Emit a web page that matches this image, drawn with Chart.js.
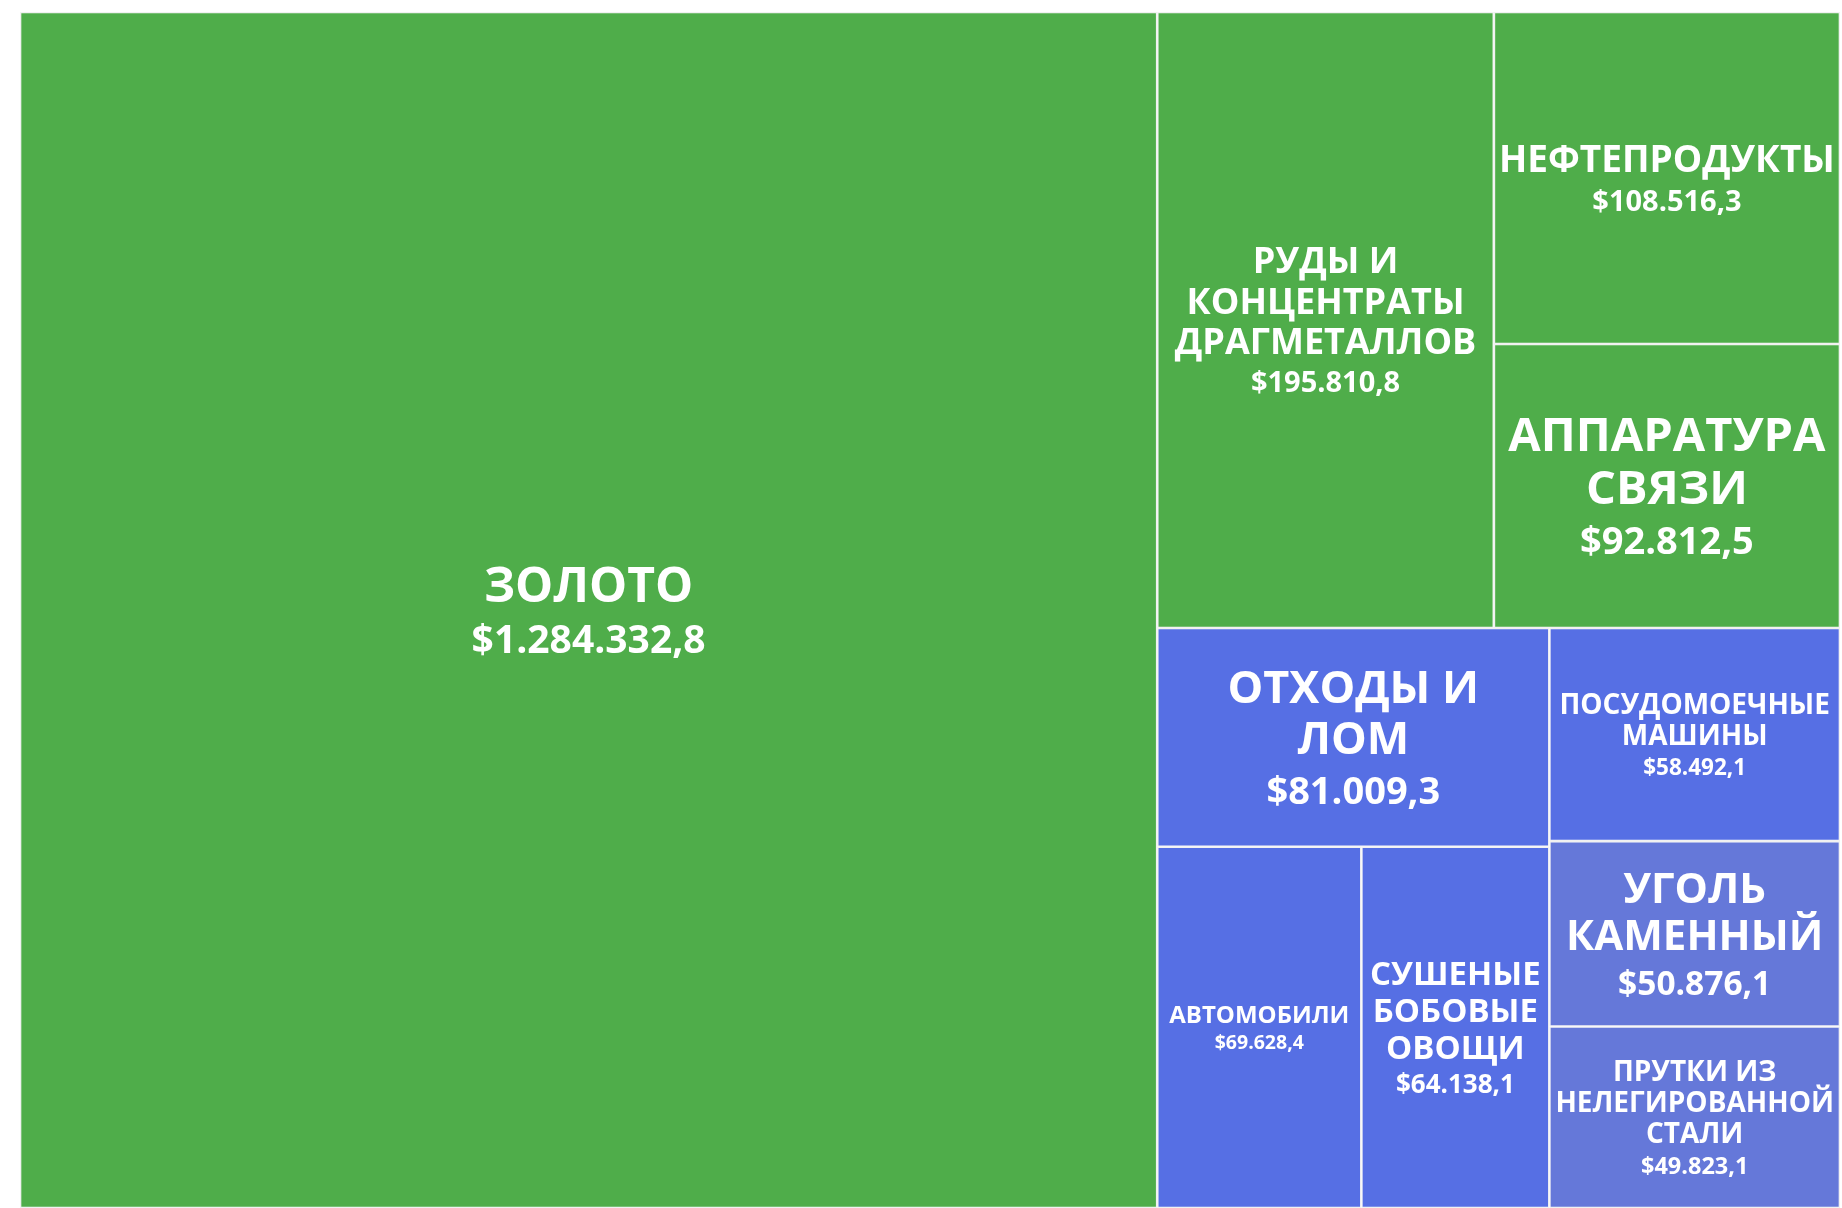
<!DOCTYPE html>
<html lang="ru">
<head>
<meta charset="utf-8">
<title>Экспорт: структура</title>
<script src="https://cdn.jsdelivr.net/npm/chart.js@4.4.1/dist/chart.umd.min.js"></script>
<style>
  html, body { margin: 0; padding: 0; background: #ffffff; }
  #wrap { width: 1842px; height: 1208px; position: relative; }
</style>
</head>
<body>
<div id="wrap"><canvas id="treemap"></canvas></div>
<script>
// Данные: товарные группы и стоимость экспорта (тыс. долл.)
const categories = [
    'ЗОЛОТО',
    'РУДЫ И КОНЦЕНТРАТЫ ДРАГМЕТАЛЛОВ',
    'НЕФТЕПРОДУКТЫ',
    'АППАРАТУРА СВЯЗИ',
    'ОТХОДЫ И ЛОМ',
    'АВТОМОБИЛИ',
    'СУШЕНЫЕ БОБОВЫЕ ОВОЩИ',
    'ПОСУДОМОЕЧНЫЕ МАШИНЫ',
    'УГОЛЬ КАМЕННЫЙ',
    'ПРУТКИ ИЗ НЕЛЕГИРОВАННОЙ СТАЛИ'
];
const exportValues = [1284332.8, 195810.8, 108516.3, 92812.5, 81009.3, 69628.4, 64138.1, 58492.1, 50876.1, 49823.1];

// Оформление (в том же порядке, что и categories)
const GREEN = '#4fad4a';
const BLUE = '#566fe4';
const BLUE_SOFT = '#6578d9';
const cellColors = [GREEN, GREEN, GREEN, GREEN, BLUE, BLUE, BLUE, BLUE, BLUE_SOFT, BLUE_SOFT];
const labelSizes = [48, 36, 37, 47, 45, 24, 33, 28, 42, 28];
const valueSizes = [39, 29, 29, 38, 38, 19.5, 26, 22.5, 33.5, 23.5];
const FONT = '"Open Sans", "Noto Sans", sans-serif';

const fmt = new Intl.NumberFormat('de-DE', { minimumFractionDigits: 1, maximumFractionDigits: 1 });

/**
 * Разбиение прямоугольника пополам по сумме значений (как d3.treemapBinary).
 * kx / ky переводят единицы осей в пиксели, чтобы выбрать направление разреза.
 */
function binaryLayout(values, x0, y0, x1, y1, kx, ky) {
    const n = values.length;
    const sums = [0];
    values.forEach((v, i) => sums.push(sums[i] + v));
    const out = new Array(n);

    function part(i, j, value, ax, ay, bx, by) {
        if (i >= j - 1) {
            out[i] = { x0: ax, y0: ay, x1: bx, y1: by };
            return;
        }
        const offset = sums[i];
        const target = value / 2 + offset;
        let k = i + 1, hi = j - 1;
        while (k < hi) {
            const mid = (k + hi) >>> 1;
            if (sums[mid] < target) k = mid + 1; else hi = mid;
        }
        if (target - sums[k - 1] < sums[k] - target && i + 1 < k) --k;
        const left = sums[k] - offset;
        const right = value - left;
        if ((bx - ax) * kx > (by - ay) * ky) {
            const xk = (ax * right + bx * left) / value;
            part(i, k, left, ax, ay, xk, by);
            part(k, j, right, xk, ay, bx, by);
        } else {
            const yk = (ay * right + by * left) / value;
            part(i, k, left, ax, ay, bx, yk);
            part(k, j, right, ax, yk, bx, by);
        }
    }
    part(0, n, sums[n], x0, y0, x1, y1);
    return out;
}

class BinaryTreemapController extends Chart.DatasetController {
    update(mode) {
        const meta = this._cachedMeta;
        this.updateElements(meta.data, 0, meta.data.length, mode);
    }

    updateElements(cells, start, count, mode) {
        const { xScale, yScale } = this._cachedMeta;
        const values = this.getDataset().data;
        const kx = xScale.width / (xScale.max - xScale.min);
        const ky = yScale.height / (yScale.max - yScale.min);
        const boxes = binaryLayout(values, xScale.min, yScale.min, xScale.max, yScale.max, kx, ky);
        for (let i = start; i < start + count; i++) {
            const b = boxes[i];
            const left = xScale.getPixelForValue(b.x0);
            const right = xScale.getPixelForValue(b.x1);
            const top = yScale.getPixelForValue(b.y0);
            const bottom = yScale.getPixelForValue(b.y1);
            this.updateElement(cells[i], i, {
                x: (left + right) / 2,
                y: top,
                base: bottom,
                width: right - left,
                height: bottom - top,
                horizontal: false,
                inflateAmount: 0,
                enableBorderRadius: false,
                borderSkipped: { top: false, bottom: false, left: false, right: false },
                options: this.resolveDataElementOptions(i, mode)
            }, mode);
        }
    }

    draw() {
        const ctx = this.chart.ctx;
        this._cachedMeta.data.forEach(cell => cell.draw(ctx));
    }
}
BinaryTreemapController.id = 'binaryTreemap';
BinaryTreemapController.defaults = { datasetElementType: false, dataElementType: 'bar' };
Chart.register(BinaryTreemapController);

function wrapWords(ctx, text, maxWidth) {
    const words = text.split(' ');
    const lines = [];
    let line = '';
    words.forEach(w => {
        const probe = line ? line + ' ' + w : w;
        if (line && ctx.measureText(probe).width > maxWidth) {
            lines.push(line);
            line = w;
        } else {
            line = probe;
        }
    });
    if (line) lines.push(line);
    return lines;
}

const cellLabels = {
    id: 'cellLabels',
    afterDatasetsDraw(chart) {
        const ctx = chart.ctx;
        const meta = chart.getDatasetMeta(0);
        meta.data.forEach((cell, i) => {
            const { x, y, base, width } = cell.getProps(['x', 'y', 'base', 'width']);
            const ls = labelSizes[i];
            const vs = valueSizes[i];
            ctx.save();
            ctx.fillStyle = '#ffffff';
            ctx.textAlign = 'center';
            ctx.textBaseline = 'alphabetic';
            ctx.font = `700 ${ls}px ${FONT}`;
            const lines = wrapWords(ctx, categories[i], width * 0.88);
            const pitch = ls * 1.12;
            const valueGap = vs * 1.05 + ls * 0.22;
            const blockH = ls * 0.72 + pitch * (lines.length - 1) + valueGap;
            const firstBase = (y + base) / 2 - blockH / 2 + ls * 0.72;
            lines.forEach((ln, k) => ctx.fillText(ln, x, firstBase + k * pitch));
            const last = firstBase + pitch * (lines.length - 1);
            ctx.font = `700 ${vs}px ${FONT}`;
            ctx.fillText('$' + fmt.format(exportValues[i]), x, last + valueGap);
            ctx.restore();
        });
    }
};

new Chart(document.getElementById('treemap'), {
    type: 'binaryTreemap',
    data: {
        labels: categories,
        datasets: [{
            data: exportValues,
            backgroundColor: cellColors,
            borderColor: 'rgba(240, 240, 240, 0.95)',
            borderWidth: 1.3
        }]
    },
    options: {
        responsive: true,
        maintainAspectRatio: false,
        animation: false,
        layout: { padding: { left: 20, top: 12, right: 2, bottom: 0 } },
        scales: {
            x: { type: 'linear', min: 0, max: 100, display: false },
            y: { type: 'linear', min: 0, max: 100, reverse: true, display: false }
        },
        plugins: {
            legend: { display: false },
            tooltip: { enabled: false }
        }
    },
    plugins: [cellLabels]
});
</script>
</body>
</html>
